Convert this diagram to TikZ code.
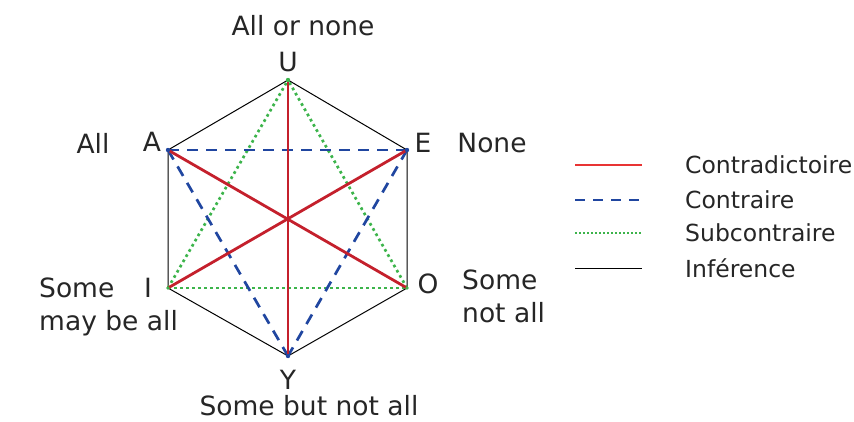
\documentclass[tikz,border=0pt]{standalone}
\usepackage{fontspec}
\setmainfont{DejaVu Sans}
\begin{document}
\begin{tikzpicture}[x=1pt,y=-1pt,
  lbl/.style={font=\fontsize{26.5}{33}\selectfont, text=black!85, inner sep=0pt},
  leg/.style={font=\fontsize{23.5}{28}\selectfont, text=black!85, inner sep=0pt, anchor=west},
  contra/.style={draw=redc, line width=2.8pt},
  contrl/.style={draw=redl, line width=2.8pt},
  contraire/.style={draw=bluec, line width=2.7pt, dash pattern=on 11pt off 8pt},
  subc/.style={draw=greenc, line width=2.7pt, dash pattern=on 2.7pt off 3.3pt},
  infer/.style={draw=black, line width=1pt}]
\definecolor{redc}{RGB}{196,32,44}
\definecolor{redl}{RGB}{232,52,52}
\definecolor{bluec}{RGB}{32,70,160}
\definecolor{greenc}{RGB}{60,180,75}
\useasboundingbox (0,0) rectangle (854,421);
% vertices
\coordinate (U) at (288,80);
\coordinate (A) at (168,150);
\coordinate (E) at (407,150);
\coordinate (I) at (168,288);
\coordinate (O) at (407,288);
\coordinate (Y) at (288,356);
% hexagon
\draw[infer] (U) -- (E) -- (O) -- (Y) -- (I) -- (A) -- cycle;
% subcontraire
\draw[subc] (I) -- (O);
\draw[subc] (I) -- (U);
\draw[subc] (O) -- (U);
% contraire
\draw[contraire] (A) -- (E);
\draw[contraire] (A) -- (Y);
\draw[contraire] (E) -- (Y);
% contradictoire
\draw[contra] (U) -- (Y);
\draw[contra] (A) -- (O);
\draw[contra] (E) -- (I);
% vertex dots
\fill[bluec] (A) circle (2.2pt);
\fill[bluec] (E) circle (2.2pt);
\fill[bluec] (Y) circle (2.2pt);
\fill[greenc] (U) circle (2.2pt);
\fill[greenc] (I) circle (1.8pt);
\fill[greenc] (O) circle (1.8pt);
% labels
\node[lbl] (tU) at (288,62) {U};
\node[lbl] (tUU) at (303,26) {All or none};
\node[lbl] (tA) at (152,142) {A};
\node[lbl] (tAA) at (93,143) {All};
\node[lbl] (tE) at (423,143) {E};
\node[lbl] (tEE) at (492,143) {None};
\node[lbl] (tI) at (148,288) {I};
\node[lbl, align=left, anchor=north west] (tII) at (39,278) {Some\\may be all};
\node[lbl] (tO) at (428,284) {O};
\node[lbl, align=left, anchor=north west] (tOO) at (462,270) {Some\\not all};
\node[lbl] (tY) at (288,380) {Y};
\node[lbl] (tYY) at (309,406) {Some but not all};
% legend
\coordinate (l1a) at (575,165); \coordinate (l1b) at (642,165);
\coordinate (l2a) at (575,200); \coordinate (l2b) at (642,200);
\coordinate (l3a) at (575,233); \coordinate (l3b) at (642,233);
\coordinate (l4a) at (575,268); \coordinate (l4b) at (642,268);
\draw[contrl] (l1a) -- (l1b);
\draw[contraire, dash pattern=on 10pt off 8pt] (l2a) -- (l2b);
\draw[subc, line width=2pt, dash pattern=on 2pt off 2pt] (l3a) -- (l3b);
\draw[infer] (l4a) -- (l4b);
\node[leg] (g1) at (685,165) {Contradictoire};
\node[leg] (g2) at (685,200) {Contraire};
\node[leg] (g3) at (685,233) {Subcontraire};
\node[leg] (g4) at (685,268) {Inférence};
\end{tikzpicture}
\end{document}
